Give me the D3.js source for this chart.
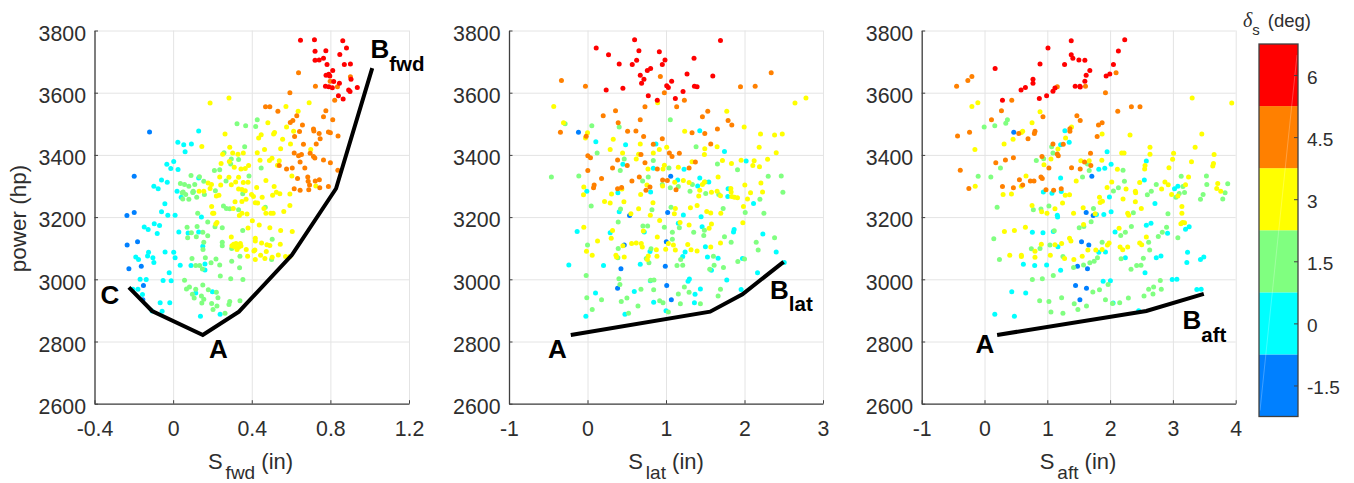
<!DOCTYPE html>
<html>
<head>
<meta charset="utf-8">
<script src="https://cdn.jsdelivr.net/npm/d3@7"></script>
<style>
  html, body { margin: 0; padding: 0; background: #fff; }
  svg { display: block; }
  text { font-family: "Liberation Sans", Arial, sans-serif; }
</style>
</head>
<body>
<div id="chart"></div>
<script>
// delta_s bands, lowest first
const bandEdges = [-2.25, -0.75, 0.75, 2.25, 3.75, 5.25, 6.75];
const bandColors = ["#0080ff", "#00ffff", "#80ff80", "#ffff00", "#ff8000", "#ff0000"];
const colorbarTicks = [-1.5, 0, 1.5, 3, 4.5, 6];
const powerTicks = [2600, 2800, 3000, 3200, 3400, 3600, 3800];

// S_fwd vs power, one list per band
const fwdBlue = [[-0.12,3474],[-0.198,3331],[-0.198,3215],[-0.235,3205],[-0.234,3110],[-0.181,3121],[-0.225,3034],[-0.162,3042],[-0.151,2980],[-0.154,2934]];
const fwdCyan = [[0.13,3477],[0.024,3441],[0.054,3433],[0.093,3435],[0.061,3410],[-0.032,3370],[0.003,3379],[-0.012,3356],[0.025,3353],[-0.059,3319],[-0.03,3312],[0.13,3326],[-0.098,3299],[-0.076,3291],[0.02,3283],[0.102,3281],[0.041,3264],[-0.042,3243],[-0.059,3217],[-0.027,3206],[0.01,3206],[0.144,3200],[-0.147,3168],[-0.127,3160],[-0.096,3179],[-0.069,3173],[-0.081,3147],[0.029,3152],[0.076,3149],[0.13,3152],[0.151,3106],[-0.125,3087],[-0.13,3075],[-0.103,3069],[-0.098,3054],[-0.19,3072],[-0.176,3064],[-0.041,3088],[0.003,3087],[0.01,3069],[0.036,3045],[0.091,3044],[0.162,3049],[0.162,3030],[-0.02,3021],[-0.168,3000],[-0.137,2999],[-0.051,2996],[-0.01,2995],[-0.179,2968],[-0.205,2968],[-0.156,2951],[0.2,2960],[0.115,2956],[-0.066,2925],[-0.017,2925],[-0.056,2897],[-0.107,2898],[0.139,2881],[0.239,2888]];
const fwdGreen = [[0.428,3513],[0.325,3500],[0.369,3494],[0.42,3491],[0.364,3426],[0.259,3407],[0.296,3387],[0.333,3385],[0.293,3371],[0.448,3358],[0.21,3350],[0.237,3352],[0.091,3334],[0.134,3330],[0.386,3332],[0.269,3316],[0.156,3315],[0.037,3308],[0.058,3305],[0.08,3299],[0.11,3305],[0.215,3285],[0.051,3281],[0.046,3278],[0.064,3273],[0.1,3279],[0.102,3283],[0.159,3273],[0.12,3264],[0.049,3258],[0.08,3257],[0.354,3275],[0.256,3236],[0.271,3228],[0.288,3227],[0.333,3224],[0.469,3232],[0.125,3212],[0.176,3184],[0.071,3167],[0.122,3170],[0.213,3169],[0.25,3166],[0.151,3151],[0.093,3150],[0.176,3140],[0.074,3134],[0.118,3137],[0.354,3157],[0.504,3129],[0.156,3119],[0.25,3119],[0.25,3108],[0.152,3096],[0.298,3099],[0.096,3067],[0.164,3069],[0.218,3065],[0.193,3053],[0.298,3058],[0.34,3074],[0.115,3044],[0.135,3044],[0.237,3046],[0.338,3037],[0.149,3033],[0.24,3011],[0.293,3002],[0.355,2999],[0.058,2997],[0.083,2975],[0.068,2969],[0.115,2968],[0.151,2982],[0.179,2966],[0.22,2958],[0.098,2952],[0.144,2946],[0.107,2940],[0.156,2936],[0.228,2941],[0.146,2924],[0.196,2922],[0.223,2914],[0.288,2929],[0.284,2919],[0.34,2931],[0.203,2903],[0.264,2891],[0.501,3064]];
const fwdYellow = [[0.284,3583],[0.188,3567],[0.692,3568],[0.574,3556],[0.636,3540],[0.482,3503],[0.577,3490],[0.264,3467],[0.516,3472],[0.511,3467],[0.613,3476],[0.448,3465],[0.435,3454],[0.557,3450],[0.146,3427],[0.288,3425],[0.597,3435],[0.465,3417],[0.547,3420],[0.7,3417],[0.252,3402],[0.303,3406],[0.33,3402],[0.357,3406],[0.428,3407],[0.442,3383],[0.49,3382],[0.503,3389],[0.54,3381],[0.244,3372],[0.286,3379],[0.384,3366],[0.311,3360],[0.345,3355],[0.367,3356],[0.531,3367],[0.604,3332],[0.237,3329],[0.284,3328],[0.333,3328],[0.178,3310],[0.195,3305],[0.318,3313],[0.296,3304],[0.357,3311],[0.381,3312],[0.472,3318],[0.242,3303],[0.188,3292],[0.132,3283],[0.156,3283],[0.333,3290],[0.35,3289],[0.367,3285],[0.425,3295],[0.514,3298],[0.726,3300],[0.399,3273],[0.525,3280],[0.543,3275],[0.506,3270],[0.594,3274],[0.22,3268],[0.233,3270],[0.453,3264],[0.409,3266],[0.315,3249],[0.371,3257],[0.35,3250],[0.418,3246],[0.43,3245],[0.196,3234],[0.306,3228],[0.594,3237],[0.462,3228],[0.563,3218],[0.201,3212],[0.207,3212],[0.35,3212],[0.376,3210],[0.337,3205],[0.497,3212],[0.509,3212],[0.472,3212],[0.403,3188],[0.223,3183],[0.217,3178],[0.438,3175],[0.492,3166],[0.381,3165],[0.547,3157],[0.606,3154],[0.296,3136],[0.418,3132],[0.418,3123],[0.45,3117],[0.477,3111],[0.492,3109],[0.545,3113],[0.308,3113],[0.299,3108],[0.32,3115],[0.342,3115],[0.345,3107],[0.313,3105],[0.325,3096],[0.333,3103],[0.372,3096],[0.411,3091],[0.416,3094],[0.474,3089],[0.379,3074],[0.418,3064],[0.445,3077],[0.467,3067],[0.504,3071],[0.535,3078],[0.572,3073],[0.594,3073]];
const fwdOrange = [[0.638,3664],[0.902,3651],[0.799,3637],[0.724,3621],[0.836,3619],[0.594,3600],[0.822,3576],[0.47,3555],[0.492,3555],[0.533,3540],[0.777,3542],[0.629,3526],[0.765,3523],[0.812,3513],[0.609,3511],[0.596,3504],[0.658,3496],[0.714,3483],[0.716,3477],[0.643,3475],[0.79,3474],[0.8,3471],[0.743,3469],[0.839,3461],[0.618,3459],[0.748,3452],[0.663,3434],[0.728,3435],[0.616,3406],[0.697,3405],[0.638,3397],[0.653,3401],[0.714,3395],[0.721,3390],[0.765,3384],[0.646,3377],[0.8,3375],[0.54,3366],[0.577,3355],[0.606,3358],[0.67,3358],[0.838,3351],[0.633,3324],[0.685,3329],[0.687,3315],[0.723,3316],[0.744,3320],[0.694,3303],[0.746,3294],[0.79,3298],[0.616,3291],[0.646,3286],[0.69,3288]];
const fwdRed = [[0.648,3769],[0.719,3770],[0.863,3767],[0.882,3744],[0.722,3733],[0.777,3735],[0.848,3723],[0.765,3711],[0.722,3704],[0.743,3705],[0.783,3691],[0.871,3691],[0.902,3692],[0.812,3671],[0.778,3656],[0.792,3659],[0.797,3654],[0.905,3643],[0.817,3636],[0.846,3630],[0.775,3621],[0.792,3619],[0.81,3616],[0.893,3609],[0.9,3604],[0.937,3617],[0.841,3590],[0.865,3580]];
const fwdBoundary = [[-0.225,2974],[-0.107,2898],[0.151,2821],[0.335,2896],[0.604,3078],[0.829,3292],[1.013,3679]];

// S_lat vs power
const latBlue = [[-0.115,3473],[1.06,3331],[1.021,3215],[0.536,3205],[0.468,3110],[1.004,3121],[0.991,3042],[0.426,3034],[0.383,2971],[1.009,2980],[1.068,2934]];
const latCyan = [[1.43,3478],[0.106,3442],[0.485,3433],[0.872,3435],[1.745,3411],[2.021,3380],[0.451,3370],[0.838,3357],[1.23,3354],[1.149,3319],[1.43,3326],[1.545,3313],[1.404,3300],[-0.009,3283],[0.387,3278],[0.804,3281],[1.791,3291],[1.787,3266],[2.115,3244],[0.404,3217],[1.221,3207],[1.447,3201],[1.157,3180],[1.46,3169],[1.868,3160],[1.86,3152],[-0.132,3154],[0.289,3150],[0.723,3152],[2.234,3146],[1.502,3105],[2.404,3088],[0.796,3089],[1.243,3088],[1.213,3073],[1.528,3072],[1.664,3068],[1.974,3067],[-0.238,3046],[0.204,3044],[0.672,3048],[1.579,3029],[2.166,3021],[1.774,2998],[1.298,3001],[1.281,2994],[0.8,2995],[0.102,2956],[0.596,2961],[1.438,2969],[1.37,2952],[1.957,2967],[0.843,2926],[1.362,2925],[1,2899],[0.477,2888],[-0.021,2881],[2.506,3054]];
const latGreen = [[1.055,3513],[-0.285,3500],[0.055,3494],[0.404,3490],[1.383,3426],[0.123,3406],[0.468,3387],[0.838,3382],[1.655,3371],[1.038,3358],[0.417,3350],[1.911,3352],[-0.46,3329],[-0.111,3332],[0.774,3329],[0.702,3316],[2.302,3331],[2.468,3332],[0.953,3305],[1.336,3305],[1.498,3313],[1.055,3294],[1.157,3298],[1.306,3283],[1.506,3276],[1.672,3273],[2.489,3280],[2.196,3257],[0.047,3236],[0.421,3226],[0.821,3224],[1.728,3228],[2.247,3212],[2.009,3215],[1.064,3232],[0.391,3184],[0.706,3171],[0.766,3171],[0.979,3167],[1.17,3166],[1.489,3158],[1.081,3151],[1.353,3151],[1.481,3141],[1.745,3137],[1.081,3129],[0,3110],[1.83,3119],[2.149,3119],[2.383,3134],[0.391,3099],[0.809,3098],[2.174,3094],[0.387,3069],[0.749,3067],[0.783,3053],[1.187,3064],[1.604,3074],[1.915,3057],[2,3065],[1.14,3044],[1.213,3045],[1.613,3045],[1.732,3038],[1.557,3032],[-0.017,3012],[0.4,3002],[0.413,2983],[0.804,2997],[0.847,2998],[0.681,2968],[0.843,2966],[1.234,2975],[1.157,2953],[1.294,2958],[1.694,2968],[-0.009,2941],[0.179,2934],[0.502,2940],[0.43,2929],[0.919,2931],[0.962,2925],[1.183,2921],[1.438,2921],[1.664,2946],[0.06,2903],[0.643,2914],[0.523,2891],[1.03,2895]];
const latYellow = [[2.783,3583],[2.643,3567],[0.894,3568],[-0.43,3556],[1.774,3540],[-0.306,3503],[1.996,3490],[1.238,3476],[0,3471],[-0.026,3454],[2.204,3467],[2.383,3464],[2.481,3467],[0.328,3450],[0.672,3435],[1.009,3425],[1.651,3426],[2.187,3425],[0.289,3417],[0.915,3417],[1.494,3420],[0.447,3406],[0.651,3402],[0.838,3406],[1.489,3401],[2.404,3407],[0.621,3387],[1.719,3382],[1.957,3383],[2.123,3381],[2.294,3386],[1.332,3378],[1.834,3372],[2.106,3366],[2.191,3362],[0.979,3367],[0.77,3355],[0.962,3355],[1.157,3360],[1.664,3329],[0.757,3303],[1.111,3312],[1.221,3318],[1.294,3311],[1.489,3313],[2.209,3310],[2.004,3303],[1.464,3305],[-0.047,3297],[0.438,3290],[0.957,3300],[1.43,3286],[1.579,3280],[1.651,3283],[1.826,3292],[1.83,3281],[2.23,3281],[2.077,3278],[-0.051,3272],[0.306,3274],[0.677,3273],[1.417,3268],[1.694,3269],[1.838,3266],[1.872,3264],[1.911,3262],[2.038,3258],[0.217,3250],[0.289,3245],[0.464,3249],[0.834,3246],[1.396,3237],[0.651,3227],[1.119,3228],[1.311,3230],[1.987,3234],[1.519,3218],[1.57,3213],[0.553,3211],[0.8,3206],[1.106,3211],[1.698,3212],[0.919,3189],[1.179,3183],[1.294,3175],[1.579,3178],[1.549,3164],[1.979,3182],[-0.047,3167],[0.711,3155],[0.319,3157],[0.302,3132],[0.889,3136],[0.128,3123],[0.451,3108],[0.562,3115],[0.621,3117],[0.685,3115],[0.698,3104],[1.03,3115],[1.094,3110],[1.277,3112],[1.694,3117],[1.57,3104],[-0.013,3090],[0.877,3095],[0.996,3097],[1.119,3094],[1.319,3095],[1.396,3091],[0.06,3077],[0.362,3077],[0.37,3072],[0.468,3072],[0.774,3075],[0.762,3064],[0.885,3074]];
const latOrange = [[2.34,3664],[0.928,3652],[-0.332,3639],[-0.026,3621],[1.949,3619],[2.136,3621],[0.979,3600],[1.234,3576],[0.732,3555],[1.136,3555],[0.357,3542],[0.2,3526],[1.532,3540],[1.464,3523],[1.791,3511],[0.672,3513],[0.391,3503],[1.838,3496],[1.655,3483],[0.511,3476],[0.617,3477],[-0.345,3473],[1.332,3471],[1.494,3469],[0.715,3459],[-0.017,3460],[0.953,3452],[0.838,3434],[1.57,3435],[1.043,3406],[1.17,3405],[0.004,3397],[0.681,3401],[0.038,3391],[1.077,3395],[0.383,3384],[0.732,3375],[1.374,3377],[0.506,3366],[0.319,3358],[0.889,3355],[1.294,3358],[0.004,3350],[0.66,3329],[0.179,3324],[0.566,3316],[0.957,3319],[1.017,3318],[0.085,3303],[0.077,3294],[0.434,3295],[0.383,3291],[0.796,3297],[0.745,3286],[1.128,3288]];
const latRed = [[0.6,3770],[1.694,3768],[0.111,3744],[0.655,3735],[0.915,3732],[0.268,3722],[0.626,3704],[0.987,3705],[1.357,3711],[0.404,3692],[0.57,3691],[0.953,3691],[0.804,3678],[0.762,3671],[1.268,3660],[0.672,3656],[1.596,3654],[0.719,3643],[1.072,3637],[0.689,3630],[1.009,3622],[1.03,3617],[1.362,3621],[1.396,3619],[0.238,3609],[0.451,3614],[1.217,3604],[0.774,3590],[0.889,3576],[1.119,3581]];
const latBoundary = [[-0.213,2821],[1.562,2896],[1.974,2952],[2.498,3056]];

// S_aft vs power
const aftBlue = [[0.466,3473],[1.709,3331],[1.619,3215],[1.73,3205],[1.545,3121],[1.661,3110],[1.481,3042],[1.64,3034],[1.45,2980],[1.624,2971],[1.519,2934]];
const aftCyan = [[1.28,3478],[1.349,3441],[1.212,3433],[1.952,3410],[2.577,3380],[2.016,3370],[1.82,3354],[1.915,3357],[1.212,3326],[2.545,3319],[3.026,3291],[3.079,3299],[0.937,3281],[1.074,3277],[1.222,3282],[1.989,3265],[2.714,3244],[2.016,3217],[1.9,3208],[1.783,3208],[1.159,3206],[1.164,3200],[2.577,3174],[2.651,3180],[3.259,3169],[3.201,3161],[2.915,3148],[0.762,3151],[0.931,3150],[1.095,3154],[2.079,3152],[1.169,3105],[1.82,3087],[1.926,3088],[3.233,3087],[2.243,3069],[2.735,3069],[2.81,3075],[3.492,3072],[3.439,3064],[3.222,3054],[0.619,3048],[0.799,3044],[0.989,3046],[1.212,3029],[2.556,3021],[1.889,2994],[2.005,2995],[2.989,2999],[3.063,3000],[0.434,2960],[0.656,2956],[3.381,2967],[3.45,2968],[2.048,2924],[0.164,2888],[0.476,2881],[2.455,2899]];
const aftGreen = [[0.365,3513],[0.339,3502],[0.164,3494],[-0.005,3490],[1.069,3426],[1.09,3406],[0.825,3382],[0.942,3388],[0.254,3358],[1.64,3371],[1.667,3350],[2.206,3351],[-0.101,3331],[0.101,3329],[1.561,3329],[2.228,3315],[3.132,3331],[3.534,3332],[3.54,3305],[3.873,3307],[2.735,3305],[3.159,3298],[2.132,3294],[2.053,3284],[2.656,3283],[3.185,3279],[2.593,3272],[3.101,3276],[3.831,3278],[3.481,3273],[3.048,3264],[3.439,3257],[3.794,3258],[0.201,3232],[0.778,3224],[1.026,3236],[1.735,3228],[2.37,3214],[2.921,3211],[0.899,3226],[1.698,3185],[1.508,3166],[1.582,3170],[2.339,3170],[2.243,3151],[2.169,3141],[2.899,3167],[2.831,3151],[2.767,3138],[3.079,3134],[0.148,3130],[1.111,3156],[1.873,3119],[2.614,3119],[0.884,3099],[0.746,3098],[1.042,3110],[2.63,3094],[1.249,3073],[0.238,3064],[2.175,3066],[2.529,3068],[1.799,3069],[1.746,3058],[1.677,3053],[1.577,3046],[1.418,3038],[2.423,3044],[2.492,3045],[2.333,3032],[0.762,2999],[0.921,3002],[1.095,3012],[1.968,2983],[1.831,2966],[1.725,2959],[2.799,2996],[2.693,2975],[2.614,2968],[2.815,2968],[2.683,2953],[2.54,2946],[2.291,2940],[1.926,2934],[1.228,2941],[0.878,2931],[1.026,2929],[1.429,2921],[1.624,2914],[1.487,2903],[1.058,2895],[1.249,2891],[2.037,2922],[2.153,2925]];
const aftYellow = [[3.307,3583],[3.937,3567],[-0.106,3568],[-0.201,3556],[0.884,3539],[0.757,3503],[1.386,3490],[0.608,3476],[0.587,3472],[1.873,3467],[2.317,3464],[3.46,3467],[1.291,3454],[0.455,3450],[0.312,3435],[-0.153,3417],[1.169,3419],[2.635,3425],[3.354,3425],[2.185,3406],[2.222,3406],[2.635,3402],[3.011,3405],[3.656,3401],[1.058,3387],[1.534,3381],[1.667,3381],[1.868,3383],[2.995,3386],[3.296,3378],[0.947,3368],[3.646,3372],[3.635,3364],[2.556,3366],[2.55,3355],[2.116,3354],[2.937,3359],[0.661,3332],[3.249,3329],[1.46,3316],[2.026,3313],[2.471,3311],[2.873,3313],[2.926,3304],[-0.148,3299],[3.201,3304],[3.714,3308],[0.587,3299],[3.698,3292],[1.952,3295],[2.254,3290],[2.82,3290],[3.762,3283],[2.402,3283],[2.407,3278],[0.296,3273],[0.429,3274],[1.286,3270],[1.354,3272],[2.979,3273],[3.079,3268],[1.831,3264],[2.206,3258],[1.878,3251],[1.841,3247],[1.243,3245],[2.402,3249],[3.143,3234],[0.757,3237],[1.122,3227],[1.571,3230],[2.497,3228],[0.91,3217],[0.995,3212],[1.418,3212],[1.762,3211],[2.28,3212],[3.143,3212],[2.296,3206],[3.153,3183],[3.127,3179],[3.185,3182],[1.577,3176],[0.317,3154],[0.476,3157],[0.651,3167],[2.143,3164],[2.577,3136],[1.354,3132],[1.376,3123],[0.905,3113],[1.122,3111],[1.228,3115],[1.984,3117],[1.958,3110],[2.471,3117],[2.503,3111],[2.159,3104],[2.28,3104],[2.201,3095],[1.646,3094],[1.772,3094],[1.873,3096],[0.804,3090],[0.402,3077],[0.587,3077],[0.587,3073],[0.804,3071],[1.048,3077],[1.275,3067],[1.423,3064],[1.556,3074]];
const aftOrange = [[2.095,3664],[-0.201,3652],[-0.265,3639],[-0.444,3621],[1.159,3619],[1.608,3621],[1.926,3600],[0.434,3576],[2.339,3555],[2.476,3555],[0.27,3542],[2.122,3540],[0.931,3523],[1.471,3526],[0.111,3513],[1.524,3511],[1.873,3503],[1.815,3496],[1.36,3476],[1.36,3484],[0.804,3476],[0.794,3469],[0.545,3469],[-0.238,3473],[-0.429,3461],[0.693,3452],[1.794,3459],[1.09,3435],[1.254,3434],[1.688,3405],[0.915,3395],[1.159,3403],[1.175,3397],[0.46,3391],[0.333,3384],[0.18,3375],[1.593,3377],[1.693,3366],[1.026,3358],[1.386,3359],[1.524,3355],[-0.386,3351],[0.899,3329],[0.92,3324],[0.556,3320],[0.73,3316],[0.788,3316],[0.608,3303],[0.46,3294],[0.286,3298],[-0.249,3292],[0.979,3288],[1.101,3286],[1.222,3291]];
const aftRed = [[1.381,3767],[2.233,3770],[1.011,3744],[2.132,3734],[1.381,3722],[1.407,3711],[1.503,3705],[1.598,3704],[0.884,3692],[1.275,3691],[2.053,3691],[0.169,3678],[1.677,3671],[1.619,3656],[1.937,3654],[1.995,3660],[0.772,3643],[0.772,3630],[1.598,3637],[1.444,3621],[1.519,3621],[1.524,3618],[0.651,3617],[0.582,3609],[1.122,3615],[1.09,3605],[0.989,3590],[0.873,3581],[0.286,3576]];
const aftBoundary = [[0.201,2821],[2.577,2898],[3.492,2953]];

const fwdTicks = [-0.4, 0, 0.4, 0.8, 1.2];
const latTicks = [-1, 0, 1, 2, 3];
const aftTicks = [-1, 0, 1, 2, 3, 4];

const chartWidth = 1354, chartHeight = 483;
const plotTop = 30.5, plotBottom = 403.7;
const inkColor = "#2e2e2e", axisColor = "#404040", gridColor = "#e4e4e4";

const panels = [
  {
    left: 94.5, right: 409, ticks: fwdTicks, domain: [-0.4, 1.2], sub: "fwd", labelX: 250.5,
    bands: [fwdBlue, fwdCyan, fwdGreen, fwdYellow, fwdOrange, fwdRed], boundary: fwdBoundary,
    notes: [
      { main: "B", sub: "fwd", at: [1.004, 3711] },
      { main: "C", at: [-0.369, 2921] },
      { main: "A", at: [0.1825, 2748] }
    ]
  },
  {
    left: 509, right: 823, ticks: latTicks, domain: [-1, 3], sub: "lat", labelX: 666,
    bands: [latBlue, latCyan, latGreen, latYellow, latOrange, latRed], boundary: latBoundary,
    notes: [
      { main: "B", sub: "lat", at: [2.325, 2937] },
      { main: "A", at: [-0.503, 2748] }
    ]
  },
  {
    left: 921.7, right: 1235.7, ticks: aftTicks, domain: [-1, 4], sub: "aft", labelX: 1078,
    bands: [aftBlue, aftCyan, aftGreen, aftYellow, aftOrange, aftRed], boundary: aftBoundary,
    notes: [
      { main: "B", sub: "aft", at: [3.153, 2840] },
      { main: "A", at: [-0.143, 2764] }
    ]
  }
];

const svg = d3.select("#chart").append("svg")
  .attr("width", chartWidth)
  .attr("height", chartHeight);

const y = d3.scaleLinear().domain([2600, 3800]).range([plotBottom, plotTop]);

panels.forEach(function(p, idx) {
  const x = d3.scaleLinear().domain(p.domain).range([p.left, p.right]);
  const g = svg.append("g").attr("class", "panel-" + p.sub);

  // grid first so the dots sit over it
  g.append("g")
    .attr("transform", "translate(0," + plotBottom + ")")
    .call(d3.axisBottom(x).tickValues(p.ticks).tickSize(plotTop - plotBottom).tickFormat(""))
    .call(s => s.select(".domain").remove())
    .selectAll("line").attr("stroke", gridColor).attr("stroke-width", 1);
  g.append("g")
    .attr("transform", "translate(" + p.left + ",0)")
    .call(d3.axisLeft(y).tickValues(powerTicks).tickSize(p.left - p.right).tickFormat(""))
    .call(s => s.select(".domain").remove())
    .selectAll("line").attr("stroke", gridColor).attr("stroke-width", 1);

  p.bands.forEach(function(points, b) {
    g.append("g").selectAll("circle")
      .data(points)
      .enter()
      .append("circle")
      .attr("cx", d => x(d[0]))
      .attr("cy", d => y(d[1]))
      .attr("r", 2.5)
      .attr("fill", bandColors[b]);
  });

  const line = d3.line().x(d => x(d[0])).y(d => y(d[1]));
  g.append("path")
    .attr("d", line(p.boundary))
    .attr("fill", "none")
    .attr("stroke", "#000")
    .attr("stroke-width", 4)
    .attr("stroke-linejoin", "miter");

  // axes, ticks point inwards
  const xAxis = g.append("g")
    .attr("transform", "translate(0," + plotBottom + ")")
    .call(d3.axisBottom(x).tickValues(p.ticks).tickSize(-3.5).tickSizeOuter(0).tickPadding(17).tickFormat(d => String(d)));
  const yAxis = g.append("g")
    .attr("transform", "translate(" + p.left + ",0)")
    .call(d3.axisLeft(y).tickValues(powerTicks).tickSize(-3.5).tickSizeOuter(0).tickPadding(8.5).tickFormat(d3.format("d")));
  [xAxis, yAxis].forEach(function(a) {
    a.select(".domain").attr("stroke", axisColor).attr("stroke-width", 1.3);
    a.selectAll("line").attr("stroke", axisColor).attr("stroke-width", 1);
    a.selectAll("text").attr("fill", inkColor).style("font-size", "21.3px");
  });
  yAxis.selectAll("text").attr("dy", "0.46em");

  const xLabel = g.append("text")
    .attr("x", p.labelX)
    .attr("y", 469)
    .attr("text-anchor", "middle")
    .attr("fill", inkColor)
    .style("font-size", "22px");
  xLabel.append("tspan").text("S");
  xLabel.append("tspan").attr("dx", 3).attr("dy", 10).style("font-size", "19px").text(p.sub);
  xLabel.append("tspan").attr("dy", -10).text(" (in)");

  if (idx === 0) {
    g.append("text")
      .attr("transform", "translate(26,218.5) rotate(-90)")
      .attr("text-anchor", "middle")
      .attr("fill", inkColor)
      .style("font-size", "22.5px")
      .text("power (hp)");
  }

  p.notes.forEach(function(n) {
    const t = g.append("text")
      .attr("x", x(n.at[0]))
      .attr("y", y(n.at[1]))
      .attr("fill", "#000")
      .style("font-weight", "bold")
      .style("font-size", "26px");
    t.append("tspan").text(n.main);
    if (n.sub) {
      t.append("tspan").attr("dy", 12.5).style("font-size", "20.5px").text(n.sub);
    }
  });
});

// colorbar
const barLeft = 1259, barRight = 1298, barTop = 44, barBottom = 416.5;
const barScale = d3.scaleLinear().domain([-2.25, 6.75]).range([barBottom, barTop]);
const bar = svg.append("g").attr("class", "colorbar");

bar.selectAll("rect.band")
  .data(bandColors)
  .enter()
  .append("rect")
  .attr("class", "band")
  .attr("x", barLeft)
  .attr("y", (d, i) => barScale(bandEdges[i + 1]))
  .attr("width", barRight - barLeft)
  .attr("height", (d, i) => barScale(bandEdges[i]) - barScale(bandEdges[i + 1]))
  .attr("fill", d => d);

// faint seam running down the bar in the original
bar.append("line")
  .attr("x1", barRight - 1)
  .attr("y1", barTop + 11)
  .attr("x2", barLeft + 1)
  .attr("y2", barBottom - 6)
  .attr("stroke", "#fff")
  .attr("stroke-opacity", 0.25);

bar.append("rect")
  .attr("x", barLeft)
  .attr("y", barTop)
  .attr("width", barRight - barLeft)
  .attr("height", barBottom - barTop)
  .attr("fill", "none")
  .attr("stroke", axisColor)
  .attr("stroke-width", 1.3);

const barAxis = bar.append("g")
  .attr("transform", "translate(" + barRight + ",0)")
  .call(d3.axisRight(barScale).tickValues(colorbarTicks).tickSize(-4).tickSizeOuter(0).tickPadding(9).tickFormat(d => String(d)));
barAxis.select(".domain").remove();
barAxis.selectAll("line").attr("stroke", axisColor);
barAxis.selectAll("text").attr("fill", inkColor).attr("dy", "0.43em").style("font-size", "19px");

const barTitle = svg.append("text")
  .attr("x", 1243)
  .attr("y", 26.5)
  .attr("fill", inkColor)
  .style("font-size", "18.5px");
barTitle.append("tspan")
  .style("font-family", '"Liberation Serif", serif')
  .style("font-style", "italic")
  .style("font-size", "20px")
  .text("δ");
barTitle.append("tspan").attr("dy", 8.5).style("font-size", "15px").text("s");
barTitle.append("tspan").attr("dy", -8.5).attr("dx", 8).text("(deg)");
</script>
</body>
</html>
